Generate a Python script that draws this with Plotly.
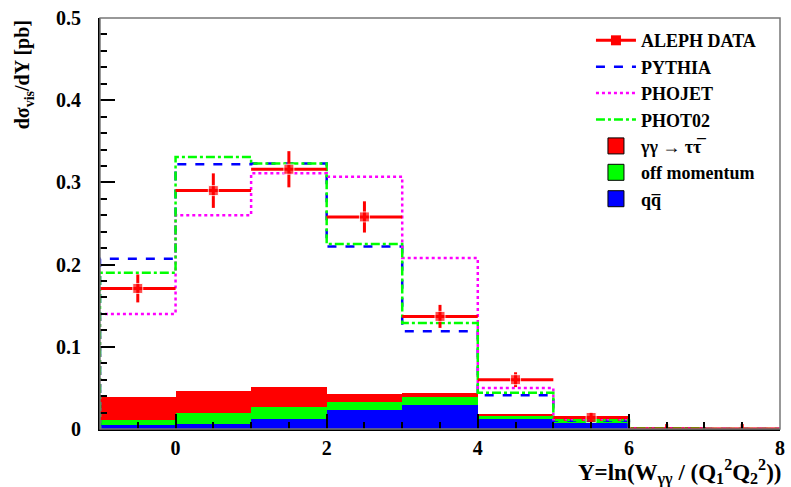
import plotly.graph_objects as go

# ---- data ----
bin_edges = [-1, 0, 1, 2, 3, 4, 5, 6, 7, 8]
bin_centers = [-0.5, 0.5, 1.5, 2.5, 3.5, 4.5, 5.5, 6.5, 7.5]

aleph_data = [0.171, 0.290, 0.316, 0.258, 0.137, 0.060, 0.014, 0.0, 0.0]
aleph_err = [0.017, 0.021, 0.022, 0.019, 0.014, 0.009, 0.006, 0.006, 0.006]

pythia = [0.207, 0.322, 0.323, 0.222, 0.119, 0.041, 0.010, 0.001, 0.0]
phojet = [0.140, 0.260, 0.311, 0.307, 0.208, 0.050, 0.012, 0.001, 0.0]
phot02 = [0.190, 0.331, 0.323, 0.225, 0.129, 0.044, 0.011, 0.001, 0.0]

bg_qq = [0.005, 0.006, 0.012, 0.023, 0.029, 0.012, 0.008, 0.0, 0.0]
bg_offmom = [0.006, 0.014, 0.015, 0.010, 0.010, 0.004, 0.002, 0.0, 0.0]
bg_tautau = [0.028, 0.026, 0.024, 0.010, 0.005, 0.002, 0.001, 0.0, 0.0]

y_ticks = [0, 0.1, 0.2, 0.3, 0.4, 0.5]
y_labels = ["0", "0.1", "0.2", "0.3", "0.4", "0.5"]
x_ticks = [0, 2, 4, 6, 8]
x_labels = ["0", "2", "4", "6", "8"]

FONT = "Liberation Serif"
TICKSIZE = 20
LEGSIZE = 18


def b(s):
    return "<b>" + s + "</b>"


def step_xy(edges, vals):
    xs = [edges[0]] + list(edges[:-1]) + [edges[-1]]
    ys = [0.0] + list(vals) + [vals[-1]]
    return xs, ys


fig = go.Figure()

# stacked backgrounds (bars), legend handled by box-marker entries below
bg_specs = [
    (bg_qq, "#0000ff", "qq\u0305", 7),
    (bg_offmom, "#00ff00", "off momentum", 6),
    (bg_tautau, "#ff0000", "\u03b3\u03b3 \u2192 \u03c4\u03c4\u0305", 5),
]
for vals, col, name, rank in bg_specs:
    fig.add_trace(go.Bar(
        x=bin_centers, y=vals, width=1.0, name=b(name),
        marker=dict(color=col, line=dict(width=0)),
        showlegend=False,
    ))

# MC step histograms
for vals, col, dash, name, rank in [
    (pythia, "#0000ff", "dash", "PYTHIA", 2),
    (phojet, "#ff00ff", "dot", "PHOJET", 3),
    (phot02, "#00ff00", "dashdot", "PHOT02", 4),
]:
    xs, ys = step_xy(bin_edges, vals)
    fig.add_trace(go.Scatter(
        x=xs, y=ys, mode="lines", name=b(name),
        line=dict(color=col, dash=dash, width=2.5, shape="hv"),
        legendrank=rank,
    ))

# data
fig.add_trace(go.Scatter(
    x=bin_centers, y=aleph_data, mode="markers", name=b("ALEPH DATA"),
    marker=dict(color="#ff0000", symbol="square",
                size=[10, 10, 10, 10, 10, 10, 10, 0, 0]),
    error_y=dict(type="data", array=aleph_err, color="#ff0000", thickness=3, width=0),
    error_x=dict(type="data", array=[0.5] * len(bin_centers), color="#ff0000", thickness=3, width=0),
    showlegend=False,
))
# legend entry for data (line + marker icon)
fig.add_trace(go.Scatter(
    x=[None], y=[None], mode="lines+markers", name=b("ALEPH DATA"),
    line=dict(color="#ff0000", width=3),
    marker=dict(color="#ff0000", symbol="square", size=10),
    legendrank=1,
))
# legend boxes for backgrounds
for vals, col, name, rank in bg_specs:
    fig.add_trace(go.Scatter(
        x=[None], y=[None], mode="markers", name=b(name),
        marker=dict(color=col, symbol="square", size=16, line=dict(color="black", width=1)),
        legendrank=rank,
    ))

fig.update_layout(
    width=791, height=487,
    margin=dict(l=100, r=6, t=18, b=58),
    paper_bgcolor="white", plot_bgcolor="white",
    barmode="stack", bargap=0,
    font=dict(family=FONT, size=TICKSIZE, color="black"),
    showlegend=True,
    legend=dict(
        x=0.722, y=0.99, xanchor="left", yanchor="top",
        bgcolor="rgba(255,255,255,0)",
        font=dict(family=FONT, size=LEGSIZE, color="black"),
        traceorder="normal", tracegroupgap=0, itemwidth=40,
    ),
    xaxis=dict(
        range=[-1, 8], showgrid=False, zeroline=False,
        tickmode="array", tickvals=x_ticks, ticktext=[b(t) for t in x_labels],
        ticks="inside", ticklen=15, tickwidth=1.5, tickcolor="black",
        minor=dict(dtick=0.5, tick0=0, ticks="inside", ticklen=7, tickwidth=1.5, tickcolor="black"),
        showline=True, linecolor="black", linewidth=2,
        tickfont=dict(family=FONT, size=TICKSIZE),
    ),
    yaxis=dict(
        range=[0, 0.5], showgrid=False, zeroline=False,
        tickmode="array", tickvals=y_ticks, ticktext=[b(t) for t in y_labels],
        ticks="inside", ticklen=15, tickwidth=1.5, tickcolor="black",
        minor=dict(dtick=0.02, ticks="inside", ticklen=7, tickwidth=1.5, tickcolor="black"),
        showline=True, linecolor="black", linewidth=2,
        tickfont=dict(family=FONT, size=TICKSIZE),
        ticklabelstandoff=13,
    ),
)

fig.add_shape(type="rect", xref="paper", yref="paper", x0=0, y0=0, x1=1, y1=1,
              line=dict(color="#777777", width=1.5), layer="above")

fig.add_annotation(
    text=b("Y=ln(W<sub>\u03b3\u03b3</sub> / (Q<sub>1</sub><sup>2</sup>Q<sub>2</sub><sup>2</sup>))"),
    xref="paper", yref="paper", x=1.004, y=-0.062, xanchor="right", yanchor="top",
    showarrow=False, font=dict(family=FONT, size=23),
)
fig.add_annotation(
    text=b("d\u03c3<sub>vis</sub>/dY [pb]"),
    xref="paper", yref="paper", x=-0.112, y=1.0, xanchor="center", yanchor="top",
    textangle=-90, showarrow=False, font=dict(family=FONT, size=20),
)

fig.write_html("out.html")
